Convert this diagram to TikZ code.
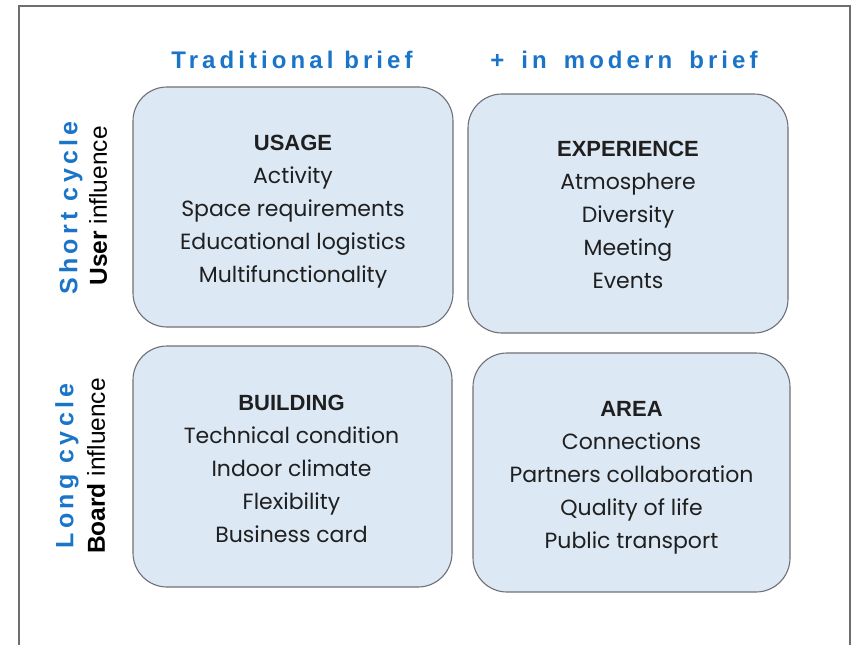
\documentclass[tikz,border=0pt]{standalone}
\usepackage{fontspec}
\setmainfont{Poppins}
\newfontfamily\headfont[LetterSpace=17]{Liberation Sans}
\newfontfamily\arialfont{Liberation Sans}
\definecolor{hblue}{RGB}{26,116,200}
\definecolor{boxfill}{RGB}{220,232,244}
\definecolor{boxline}{RGB}{112,112,118}
\definecolor{framegray}{RGB}{110,110,110}
\begin{document}
\begin{tikzpicture}[x=1pt,y=-1pt,
  quad/.style={draw=boxline, line width=1.1pt, fill=boxfill, rounded corners=34pt, inner sep=0pt},
  qtext/.style={align=center, font=\fontsize{22}{33}\selectfont, text=black!88, inner sep=0pt},
  colhead/.style={font=\headfont\bfseries\fontsize{24}{28}\selectfont, text=hblue},
  rowhead/.style={font=\headfont\bfseries\fontsize{25}{28}\selectfont, text=hblue, rotate=90},
  rowsub/.style={font=\arialfont\fontsize{24.5}{26}\selectfont, text=black, rotate=90}
]
\useasboundingbox (0,0) rectangle (852,645);
\coordinate (f1) at (19,645);
\coordinate (f2) at (19,6);
\coordinate (f3) at (850,6);
\coordinate (f4) at (850,645);
\draw[framegray, line width=1.3pt] (f1) -- (f2) -- (f3) -- (f4);

\node[colhead] (th1) at (292,60) {Traditional brief};
\node[colhead] (th2) at (624,60) {+\hskip 17pt in\hskip 17pt modern\hskip 17pt brief};

\node[rowhead] (rh1) at (71,208) {Short cycle};
\node[rowsub] (rs1) at (98,206) {{\bfseries User} influence};
\node[rowhead] (rh2) at (67,466) {Long cycle};
\node[rowsub] (rs2) at (96,466) {{\bfseries Board} influence};

\node[quad, minimum width=320pt, minimum height=240pt] (usage) at (293,207) {};
\node[quad, minimum width=320pt, minimum height=239pt] (exp) at (628,213.5) {};
\node[quad, minimum width=319pt, minimum height=241pt] (bld) at (292.5,466.5) {};
\node[quad, minimum width=317pt, minimum height=239pt] (area) at (631.5,472.5) {};

\node[qtext] (usage-t) at ([yshift=-4.5pt]usage.center)
  {{\arialfont\bfseries USAGE}\\Activity\\Space requirements\\Educational logistics\\Multifunctionality};
\node[qtext] (exp-t) at ([yshift=-1.5pt]exp.center)
  {{\arialfont\bfseries EXPERIENCE}\\Atmosphere\\Diversity\\Meeting\\Events};
\node[qtext] (bld-t) at ([yshift=-2pt,xshift=-1pt]bld.center)
  {{\arialfont\bfseries BUILDING}\\Technical condition\\Indoor climate\\Flexibility\\Business card};
\node[qtext] (area-t) at ([yshift=-5pt]area.center)
  {{\arialfont\bfseries AREA}\\Connections\\Partners collaboration\\Quality of life\\Public transport};
\end{tikzpicture}
\end{document}
